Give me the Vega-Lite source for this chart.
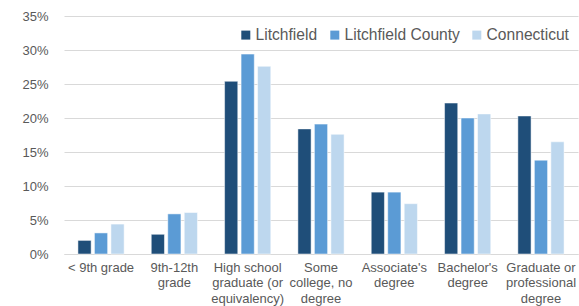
{
  "$schema": "https://vega.github.io/schema/vega-lite/v6.json",
  "width": 514,
  "height": 238,
  "autosize": {"type": "none"},
  "padding": {"left": 64, "top": 16, "right": 1, "bottom": 52},
  "background": "white",
  "config": {
    "view": {"stroke": null},
    "font": "Liberation Sans",
    "axis": {"labelFont": "Liberation Sans", "labelFontSize": 13, "labelColor": "#595959"},
    "legend": {"labelFont": "Liberation Sans", "labelFontSize": 15.6, "labelColor": "#595959"}
  },
  "data": {
    "values": [
      {"level": "< 9th grade", "area": "Litchfield", "pct": 0.020},
      {"level": "< 9th grade", "area": "Litchfield County", "pct": 0.031},
      {"level": "< 9th grade", "area": "Connecticut", "pct": 0.044},
      {"level": "9th-12th grade", "area": "Litchfield", "pct": 0.029},
      {"level": "9th-12th grade", "area": "Litchfield County", "pct": 0.059},
      {"level": "9th-12th grade", "area": "Connecticut", "pct": 0.061},
      {"level": "High school graduate (or equivalency)", "area": "Litchfield", "pct": 0.254},
      {"level": "High school graduate (or equivalency)", "area": "Litchfield County", "pct": 0.294},
      {"level": "High school graduate (or equivalency)", "area": "Connecticut", "pct": 0.276},
      {"level": "Some college, no degree", "area": "Litchfield", "pct": 0.184},
      {"level": "Some college, no degree", "area": "Litchfield County", "pct": 0.191},
      {"level": "Some college, no degree", "area": "Connecticut", "pct": 0.176},
      {"level": "Associate's degree", "area": "Litchfield", "pct": 0.091},
      {"level": "Associate's degree", "area": "Litchfield County", "pct": 0.091},
      {"level": "Associate's degree", "area": "Connecticut", "pct": 0.074},
      {"level": "Bachelor's degree", "area": "Litchfield", "pct": 0.222},
      {"level": "Bachelor's degree", "area": "Litchfield County", "pct": 0.200},
      {"level": "Bachelor's degree", "area": "Connecticut", "pct": 0.206},
      {"level": "Graduate or professional degree", "area": "Litchfield", "pct": 0.203},
      {"level": "Graduate or professional degree", "area": "Litchfield County", "pct": 0.138},
      {"level": "Graduate or professional degree", "area": "Connecticut", "pct": 0.165}
    ]
  },
  "mark": {"type": "bar", "stroke": "white", "strokeWidth": 0.5},
  "encoding": {
    "x": {
      "field": "level",
      "type": "nominal",
      "sort": null,
      "title": null,
      "scale": {"paddingInner": 0.37, "paddingOuter": 0.19},
      "axis": {
        "labelAngle": 0,
        "ticks": false,
        "domain": true,
        "domainColor": "#d9d9d9",
        "domainWidth": 1,
        "labelPadding": 7,
        "labelLineHeight": 15.5,
        "labelBaseline": "top",
        "labelExpr": "datum.value == '9th-12th grade' ? ['9th-12th', 'grade'] : datum.value == 'High school graduate (or equivalency)' ? ['High school', 'graduate (or', 'equivalency)'] : datum.value == 'Some college, no degree' ? ['Some', 'college, no', 'degree'] : datum.value == \"Associate's degree\" ? [\"Associate's\", 'degree'] : datum.value == \"Bachelor's degree\" ? [\"Bachelor's\", 'degree'] : datum.value == 'Graduate or professional degree' ? ['Graduate or', 'professional', 'degree'] : datum.value"
      }
    },
    "xOffset": {
      "field": "area",
      "type": "nominal",
      "sort": ["Litchfield", "Litchfield County", "Connecticut"],
      "scale": {"paddingInner": 0.2}
    },
    "y": {
      "field": "pct",
      "type": "quantitative",
      "title": null,
      "scale": {"domain": [0, 0.35]},
      "axis": {
        "format": ".0%",
        "values": [0, 0.05, 0.1, 0.15, 0.2, 0.25, 0.3, 0.35],
        "ticks": false,
        "domain": false,
        "gridColor": "#d9d9d9",
        "gridWidth": 1,
        "labelPadding": 16
      }
    },
    "color": {
      "field": "area",
      "type": "nominal",
      "sort": ["Litchfield", "Litchfield County", "Connecticut"],
      "scale": {"domain": ["Litchfield", "Litchfield County", "Connecticut"], "range": ["#1f4e79", "#5b9bd5", "#bdd7ee"]},
      "legend": {
        "title": null,
        "orient": "none",
        "direction": "horizontal",
        "legendX": 174,
        "legendY": 11,
        "symbolType": "square",
        "symbolSize": 81,
        "symbolStrokeWidth": 0,
        "labelOffset": 2,
        "columnPadding": 9
      }
    }
  }
}
